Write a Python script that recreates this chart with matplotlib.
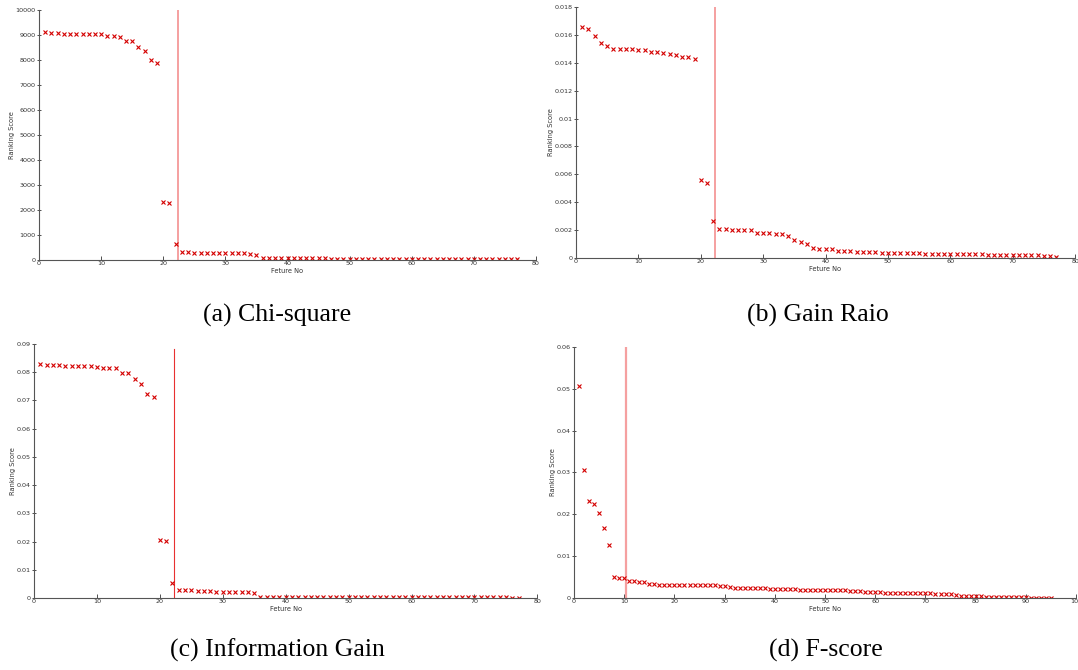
import numpy as np
import matplotlib
matplotlib.use("Agg")
import matplotlib.pyplot as plt
from matplotlib.ticker import FuncFormatter

# scores, one value per feature (ranked)
chi_square = [9130, 9070, 9070, 9060, 9040, 9030, 9030, 9030, 9030, 9030,
              8970, 8950, 8930, 8780, 8760, 8510, 8360, 8000, 7880, 2310,
              2290, 630, 300, 300, 290, 270, 270, 260, 260, 260,
              260, 260, 260, 240, 200, 70, 70,
              70, 70, 68, 66, 65, 64, 62, 60, 60, 58,
              57, 56, 55, 54, 53, 52, 50, 50, 48, 47,
              46, 45, 44, 43, 42, 40, 40, 38, 37, 36,
              35, 34, 33, 32, 30, 29, 28, 26, 24, 20]

gain_ratio = [0.01654, 0.01642, 0.01589, 0.01541, 0.01522, 0.01500, 0.01498, 0.01498, 0.01496, 0.01488,
              0.01488, 0.01474, 0.01474, 0.01469, 0.01462, 0.01457, 0.01441, 0.01441, 0.01429, 0.00556,
              0.00535, 0.00266, 0.00206, 0.00206, 0.00204, 0.00199, 0.00199, 0.00199, 0.00182, 0.00182,
              0.00182, 0.00175, 0.00173, 0.00158, 0.00127, 0.00113, 0.00097, 0.00072, 0.00067, 0.00067,
              0.00066, 0.00048, 0.00048, 0.00047, 0.00043, 0.00043, 0.00043, 0.00042, 0.00036, 0.00035,
              0.00034, 0.00034, 0.00033, 0.00033, 0.00032, 0.00031, 0.00031, 0.00030, 0.00030, 0.00029,
              0.00027, 0.00026, 0.00026, 0.00025, 0.00025, 0.00024, 0.00023, 0.00023, 0.00022, 0.00022,
              0.00020, 0.00019, 0.00019, 0.00018, 0.00015, 0.00012, 0.00005]

info_gain = [0.0830, 0.0825, 0.0825, 0.0824, 0.0823, 0.0823, 0.0821, 0.0821, 0.0821, 0.0818,
             0.0814, 0.0814, 0.0814, 0.0799, 0.0796, 0.0776, 0.0759, 0.0724, 0.0712, 0.0205,
             0.0203, 0.0054, 0.0027, 0.0027, 0.0027, 0.0025, 0.0024, 0.0024, 0.0022, 0.0022,
             0.0022, 0.0022, 0.0022, 0.0020, 0.0017, 0.0005, 0.0005, 0.0005, 0.0005, 0.0005,
             0.0005, 0.0005, 0.0005, 0.0005, 0.0004, 0.0004, 0.0004, 0.0004, 0.0004, 0.0004,
             0.0004, 0.0004, 0.0004, 0.0004, 0.0004, 0.0003, 0.0003, 0.0003, 0.0003, 0.0003,
             0.0003, 0.0003, 0.0003, 0.0003, 0.0003, 0.0003, 0.0002, 0.0002, 0.0002, 0.0002,
             0.0002, 0.0002, 0.0002, 0.0002, 0.0002, 0.0001, 0.0001]

f_score = [0.0506, 0.0305, 0.0233, 0.0224, 0.0204, 0.0167, 0.0126, 0.0049, 0.0048, 0.0047,
           0.0041, 0.0040, 0.0037, 0.0037, 0.0034, 0.0034, 0.0032, 0.0032, 0.0032, 0.0032,
           0.0031, 0.0031, 0.0030, 0.0030, 0.0030, 0.0030, 0.0030, 0.0030, 0.0029, 0.0028,
           0.0026, 0.0025, 0.0024, 0.0024, 0.0023, 0.0023, 0.0023, 0.0023, 0.0022, 0.0022,
           0.0021, 0.0021, 0.0021, 0.0021, 0.0020, 0.0020, 0.0020, 0.0020, 0.0019, 0.0019,
           0.0019, 0.0019, 0.0019, 0.0018, 0.0017, 0.0017, 0.0016, 0.0015, 0.0015, 0.0014,
           0.0014, 0.0013, 0.0013, 0.0013, 0.0012, 0.0012, 0.0012, 0.0011, 0.0011, 0.0011,
           0.0011, 0.0010, 0.0010, 0.0009, 0.0009, 0.0008, 0.0005, 0.0005, 0.0005, 0.0005,
           0.0004, 0.0003, 0.0002, 0.0002, 0.0002, 0.0002, 0.0002, 0.0002, 0.0002, 0.0002,
           0.0001, 0.0001, 0.0001, 0.0001, 0.0001]

captions = ["(a) Chi-square", "(b) Gain Raio", "(c) Information Gain", "(d) F-score"]
cutoffs = [22.3, 22.3, 22.2, 10.4]
y_max = [10000, 0.018, 0.09, 0.06]
y_step = [1000, 0.002, 0.01, 0.01]
x_max = [80, 80, 80, 100]

series = [chi_square, gain_ratio, info_gain, f_score]

fig = plt.figure(figsize=(10.78, 6.70), dpi=100)

# axes rectangles in figure fractions
rects = [[0.0362, 0.612, 0.461, 0.373],
         [0.5343, 0.615, 0.463, 0.3746],
         [0.0315, 0.1075, 0.467, 0.379],
         [0.5325, 0.1075, 0.4657, 0.3746]]
caption_pos = [(0.257, 0.529), (0.759, 0.529), (0.257, 0.029), (0.766, 0.029)]
line_top = [1.0, 1.0, 0.98, 1.0]
line_style = [("#f5a0a0", 1.4), ("#f5a0a0", 1.4), ("#e83030", 0.8), ("#f5a0a0", 1.6)]

fmt = FuncFormatter(lambda v, p: "%g" % round(v, 6))

for i in range(4):
    ax = fig.add_axes(rects[i])
    y = series[i]
    x = np.arange(1, len(y) + 1)
    ax.axvline(cutoffs[i], ymin=0, ymax=line_top[i], color=line_style[i][0],
               lw=line_style[i][1], zorder=1)
    ax.plot(x, y, "x", color="#d40000", markersize=2.2, mew=0.8, zorder=2)

    ax.set_xlim(0, x_max[i])
    ax.set_ylim(0, y_max[i])
    ax.set_xticks(np.arange(0, x_max[i] + 1, 10))
    ax.set_yticks(np.arange(0, y_max[i] + y_step[i] / 2, y_step[i]))
    ax.yaxis.set_major_formatter(fmt)
    ax.tick_params(axis="both", labelsize=4.6, colors="#333333", length=3, width=0.6, pad=1)
    ax.tick_params(axis="x", direction="in")
    ax.tick_params(axis="y", direction="inout")
    for s in ["top", "right"]:
        ax.spines[s].set_visible(False)
    for s in ["left", "bottom"]:
        ax.spines[s].set_color("#555555")
        ax.spines[s].set_linewidth(0.8)

    ax.set_ylabel("Ranking Score", fontsize=4.8, color="#333333", labelpad=0.5)
    ax.set_xlabel("Feture No", fontsize=4.8, color="#333333", labelpad=1)

    fig.text(caption_pos[i][0], caption_pos[i][1], captions[i], ha="center", va="center",
             fontsize=18.5, family="Liberation Serif")

fig.savefig("out.png", dpi=100)
